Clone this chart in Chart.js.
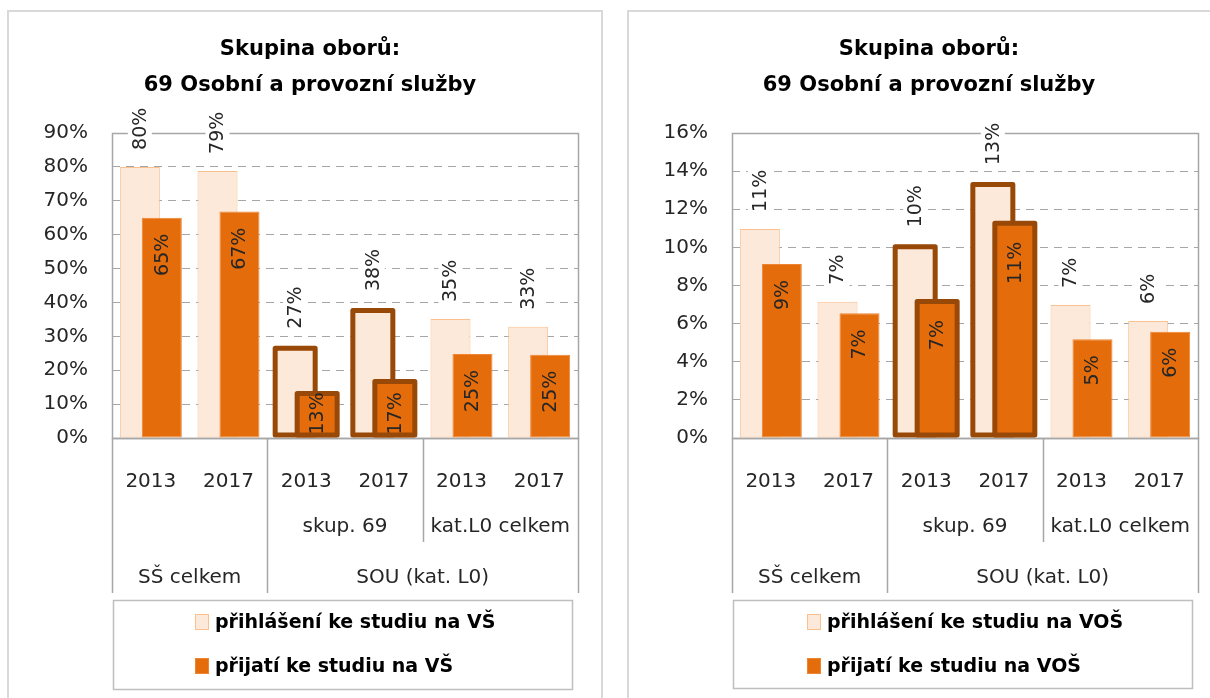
<!DOCTYPE html>
<html lang="cs">
<head>
<meta charset="utf-8">
<title>Skupina oborů 69</title>
<script src="https://cdn.jsdelivr.net/npm/chart.js@4.4.1/dist/chart.umd.min.js"></script>
<style>
  body { margin: 0; background: #fff; width: 1210px; height: 698px; overflow: hidden; position: relative; }
  .frame { position: absolute; top: 10px; height: 700px; border: 2px solid #d9d9d9; box-sizing: border-box; }
  canvas { position: absolute; top: 0; }
</style>
</head>
<body>
<div class="frame" style="left:7px;width:596px"></div>
<div class="frame" style="left:627px;width:600px"></div>
<canvas id="chartVS" width="610" height="698" style="left:0"></canvas>
<canvas id="chartVOS" width="595" height="698" style="left:615px"></canvas>
<script>
// categories (multi-level axis)
const years = ['2013', '2017', '2013', '2017', '2013', '2017'];
const midGroupLabels = ['', 'skup. 69', 'kat.L0 celkem'];
const midGroupSpans = [2, 2, 2];
const topGroupLabels = ['SŠ celkem', 'SOU (kat. L0)'];
const topGroupSpans = [2, 4];

const titleLines = ['Skupina oborů:', '69 Osobní a provozní služby'];

// left chart - VŠ (values in %)
const vsSeriesNames = ['přihlášení ke studiu na VŠ', 'přijatí ke studiu na VŠ'];
const vsApplied = [80.0, 78.8, 26.5, 37.6, 35.1, 32.8];
const vsAdmitted = [65.0, 66.8, 13.1, 16.7, 24.8, 24.6];
const vsTickMax = 90;
const vsTickStep = 10;

// right chart - VOŠ (values in %)
const vosSeriesNames = ['přihlášení ke studiu na VOŠ', 'přijatí ke studiu na VOŠ'];
const vosApplied = [10.97, 7.15, 10.03, 13.3, 6.98, 6.14];
const vosAdmitted = [9.13, 6.54, 7.16, 11.27, 5.18, 5.58];
const vosTickMax = 16;
const vosTickStep = 2;

const LIGHT_FILL = '#FDE9D9';
const LIGHT_LINE = '#FAC090';
const DARK_FILL = '#E46C0A';
const DARK_LINE = '#EE8533';
const THICK_LINE = '#984807';
const GRID = '#A6A6A6';
const AXIS = '#A6A6A6';
const TEXT = '#262626';
const FONT = '"DejaVu Sans", Verdana, sans-serif';

const PLOT_TOP = 133;
const PLOT_BOTTOM = 438;
const thickIdx = [2, 3]; // skup. 69 bars get the heavy brown outline

function strokeThick(ctx, meta) {
    ctx.save();
    ctx.strokeStyle = THICK_LINE;
    ctx.lineWidth = 5;
    ctx.lineJoin = 'round';
    thickIdx.forEach(i => {
        const el = meta.data[i];
        ctx.strokeRect(el.x - el.width / 2, el.y, el.width, el.base - el.y - 2.5);
    });
    ctx.restore();
}

function drawValueLabels(chart) {
    const ctx = chart.ctx;
    ctx.save();
    ctx.font = '19px ' + FONT;
    ctx.textBaseline = 'middle';
    ctx.textAlign = 'left';
    chart.data.datasets.forEach((ds, d) => {
        const meta = chart.getDatasetMeta(d);
        meta.data.forEach((el, i) => {
            const text = Math.round(ds.data[i]) + '%';
            const w = ctx.measureText(text).width;
            const extra = thickIdx.includes(i) ? 2.5 : 0;
            let start;
            if (d === 0) {
                start = el.y - 17 - extra;
            } else {
                start = Math.min(el.y + 16 + extra + w, el.base - 3);
            }
            ctx.save();
            ctx.translate(el.x, start);
            ctx.rotate(-Math.PI / 2);
            if (d === 0) {
                ctx.fillStyle = '#fff';
                ctx.fillRect(-3, -12, w + 6, 24);
            }
            ctx.fillStyle = TEXT;
            ctx.fillText(text, 0, 1);
            ctx.restore();
        });
    });
    ctx.restore();
}

function drawCategoryGroups(chart) {
    const ctx = chart.ctx;
    const xs = chart.scales.x;
    const area = chart.chartArea;
    const edge = i => {
        if (i <= 0) return area.left;
        if (i >= years.length) return area.right;
        return (xs.getPixelForValue(i - 1) + xs.getPixelForValue(i)) / 2;
    };
    const vline = (px, y2) => {
        const x = Math.round(px) + 0.5;
        ctx.beginPath();
        ctx.moveTo(x, area.bottom);
        ctx.lineTo(x, y2);
        ctx.stroke();
    };

    ctx.save();
    ctx.strokeStyle = AXIS;
    ctx.lineWidth = 1.5;
    ctx.fillStyle = TEXT;
    ctx.font = '20px ' + FONT;
    ctx.textAlign = 'center';
    ctx.textBaseline = 'middle';

    const topEdges = [0];
    let pos = 0;
    topGroupSpans.forEach((span, g) => {
        const a = pos, b = pos + span;
        ctx.fillText(topGroupLabels[g], (edge(a) + edge(b)) / 2, 578);
        pos = b;
        topEdges.push(b);
    });
    topEdges.forEach(i => vline(edge(i), 593));

    pos = 0;
    midGroupSpans.forEach((span, g) => {
        const a = pos, b = pos + span;
        if (midGroupLabels[g]) ctx.fillText(midGroupLabels[g], (edge(a) + edge(b)) / 2, 527);
        if (!topEdges.includes(b)) vline(edge(b), 542);
        pos = b;
    });

    // axis line under the bars
    ctx.beginPath();
    ctx.moveTo(area.left, area.bottom + 0.5);
    ctx.lineTo(area.right, area.bottom + 0.5);
    ctx.stroke();
    ctx.restore();
}

function drawLegendBox(chart, box) {
    const ctx = chart.ctx;
    ctx.save();
    ctx.strokeStyle = '#BFBFBF';
    ctx.lineWidth = 1.5;
    ctx.strokeRect(box.x + 0.5, box.y + 0.5, box.w, box.h);
    ctx.font = 'bold 19px ' + FONT;
    ctx.textBaseline = 'middle';
    ctx.textAlign = 'left';
    const widths = chart.data.datasets.map(ds => ctx.measureText(ds.label).width);
    const blockW = 14 + 6 + Math.max(...widths);
    const x0 = Math.round(box.x + (box.w - blockW) / 2) + 3;
    chart.data.datasets.forEach((ds, d) => {
        const y = box.y + 22 + d * 44;
        ctx.fillStyle = ds.backgroundColor;
        ctx.fillRect(x0, y - 8, 14, 16);
        ctx.strokeStyle = ds.borderColor;
        ctx.lineWidth = 1;
        ctx.strokeRect(x0 + 0.5, y - 7.5, 13, 15);
        ctx.fillStyle = '#000';
        ctx.fillText(ds.label, x0 + 20, y + 1);
    });
    ctx.restore();
}

function createChart(canvasId, names, applied, admitted, tickMax, tickStep, layoutOpts) {
    const canvas = document.getElementById(canvasId);
    const ctx = canvas.getContext('2d');

    const overlayPlugin = {
        id: 'excelLook',
        beforeDatasetsDraw(chart) {
            const a = chart.chartArea;
            const c = chart.ctx;
            c.save();
            c.strokeStyle = AXIS;
            c.lineWidth = 1.5;
            c.strokeRect(Math.round(a.left) + 0.5, Math.round(a.top) + 0.5,
                Math.round(a.right - a.left), Math.round(a.bottom - a.top));
            c.restore();
        },
        beforeDatasetDraw(chart, args) {
            // admitted bars are drawn later so they sit on top of the applied ones
            if (args.index === 1) return false;
        },
        afterDatasetsDraw(chart) {
            const c = chart.ctx;
            strokeThick(c, chart.getDatasetMeta(0));
            const darkMeta = chart.getDatasetMeta(1);
            darkMeta.controller.draw();
            strokeThick(c, darkMeta);
            drawValueLabels(chart);
        },
        afterDraw(chart) {
            const c = chart.ctx;
            drawCategoryGroups(chart);
            drawLegendBox(chart, layoutOpts.legend);
            c.save();
            c.font = 'bold 21px ' + FONT;
            c.fillStyle = '#000';
            c.textAlign = 'center';
            c.textBaseline = 'middle';
            titleLines.forEach((line, i) => c.fillText(line, layoutOpts.titleX, 50 + i * 36));
            c.restore();
        }
    };

    return new Chart(ctx, {
        type: 'bar',
        data: {
            labels: years,
            datasets: [{
                label: names[0],
                data: applied,
                backgroundColor: LIGHT_FILL,
                borderColor: LIGHT_LINE,
                borderWidth: years.map((y, i) => thickIdx.includes(i) ? 0 : 1),
                borderSkipped: false
            }, {
                label: names[1],
                data: admitted,
                backgroundColor: DARK_FILL,
                borderColor: DARK_LINE,
                borderWidth: years.map((y, i) => thickIdx.includes(i) ? 0 : 1),
                borderSkipped: false
            }]
        },
        options: {
            responsive: false,
            animation: false,
            devicePixelRatio: 1,
            categoryPercentage: 0.566,
            barPercentage: 1.82,
            layout: {
                padding: { top: PLOT_TOP, left: 0, right: canvas.width - layoutOpts.plotRight, bottom: 0 }
            },
            scales: {
                x: {
                    grid: { display: false },
                    border: { display: false },
                    ticks: {
                        color: TEXT,
                        font: { family: FONT, size: 20, lineHeight: 1.2 },
                        padding: 24,
                        maxRotation: 0,
                        autoSkip: false
                    },
                    afterFit(scale) { scale.height = canvas.height - PLOT_BOTTOM; }
                },
                y: {
                    min: 0,
                    max: tickMax,
                    grid: {
                        drawTicks: false,
                        color: c => (c.tick && (c.tick.value === 0 || c.tick.value === tickMax)) ? 'rgba(0,0,0,0)' : GRID
                    },
                    border: { display: false, dash: [8, 6] },
                    ticks: {
                        stepSize: tickStep,
                        color: TEXT,
                        font: { family: FONT, size: 20 },
                        padding: 24,
                        callback: v => v + '%'
                    },
                    afterFit(scale) { scale.width = layoutOpts.plotLeft; }
                }
            },
            plugins: {
                legend: { display: false },
                title: { display: false },
                tooltip: { enabled: false }
            }
        },
        plugins: [overlayPlugin]
    });
}

createChart('chartVS', vsSeriesNames, vsApplied, vsAdmitted, vsTickMax, vsTickStep, {
    plotLeft: 112, plotRight: 578, titleX: 310,
    legend: { x: 113, y: 600, w: 459, h: 89 }
});

createChart('chartVOS', vosSeriesNames, vosApplied, vosAdmitted, vosTickMax, vosTickStep, {
    plotLeft: 117, plotRight: 583, titleX: 314,
    legend: { x: 118, y: 600, w: 459, h: 88 }
});
</script>
</body>
</html>
